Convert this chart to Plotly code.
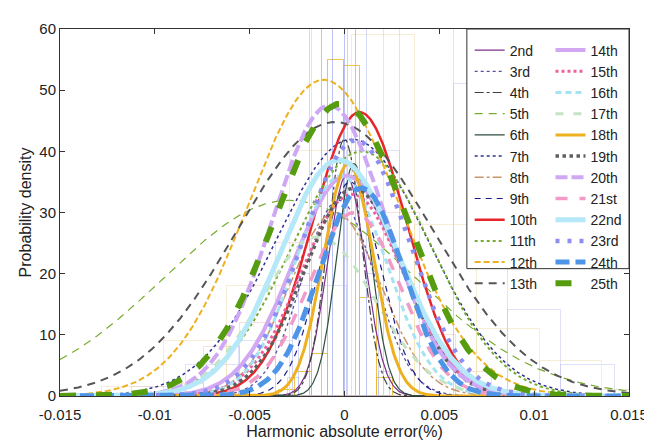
import numpy as np
import plotly.graph_objects as go

# ---- data ----
harmonics = ["2nd", "3rd", "4th", "5th", "6th", "7th", "8th", "9th", "10th", "11th", "12th", "13th",
             "14th", "15th", "16th", "17th", "18th", "19th", "20th", "21st", "22nd", "23rd", "24th", "25th"]
fit_mean = [0.0001, -0.0003, 0.0000, -0.0029, 0.0005, 0.0004, -0.0005, 0.0003, 0.0008, 0.0009, -0.0011, -0.0005,
            0.0001, 0.0004, -0.0002, -0.0014, 0.0002, 0.0005, -0.0008, 0.0005, -0.0003, 0.0006, 0.0009, -0.0002]
fit_sigma = [0.0010, 0.0019, 0.0009, 0.0066, 0.0009, 0.0040, 0.0024, 0.0016, 0.0025, 0.0037, 0.00397, 0.00514,
             0.0028, 0.0027, 0.0024, 0.0030, 0.0013, 0.0026, 0.0030, 0.0024, 0.0031, 0.0028, 0.0022, 0.0035]
fit_peak = [36, 32, 42, 32, 38, 42, 30, 35, 46.4, 40, 51.7, 44.8,
            36, 33, 36, 26, 38, 34, 47.5, 30, 38.6, 41.8, 34, 47.8]

# faint histogram outlines (left edge, bin width, bin heights)
hist_left = [-0.00346, -0.0112, -0.0093, -0.0128, -0.0030]
hist_width = [0.00086, 0.00283, 0.0019, 0.0033, 0.0006]
hist_heights = [
    [1, 4, 6.9, 55, 54, 16, 3],
    [1.5, 5, 9, 18, 40, 62, 51, 14, 5, 1],
    [2, 8, 12, 25, 70, 75, 30, 10, 4, 1],
    [1.5, 9, 18, 40, 59, 28, 11, 5.7, 1],
    [3, 20, 70, 80, 90, 75, 65, 20, 4],
]
hist_colors = ["rgba(237,177,32,0.8)", "rgba(180,180,240,0.4)", "rgba(240,160,150,0.35)",
               "rgba(237,215,160,0.45)", "rgba(160,170,240,0.45)"]

x_ticks = [-0.015, -0.01, -0.005, 0, 0.005, 0.01, 0.015]
x_ticklabels = ["-0.015", "-0.01", "-0.005", "0", "0.005", "0.01", "0.015"]
y_ticks = [0, 10, 20, 30, 40, 50, 60]

# ---- styles ----
styles = {
    "2nd": ("#7E2F8E", 1.2, "solid"),
    "3rd": ("#5A4FA0", 1.3, "dot"),
    "4th": ("#404040", 1.2, "dashdot"),
    "5th": ("#77AC30", 1.2, "8px,6px"),
    "6th": ("#2F4F3F", 1.2, "solid"),
    "7th": ("#2E3192", 1.5, "dot"),
    "8th": ("#C9956B", 1.5, "dashdot"),
    "9th": ("#1A1A8C", 1.2, "6px,5px"),
    "10th": ("#E8262A", 2.5, "solid"),
    "11th": ("#77AC30", 2.0, "dot"),
    "12th": ("#EDB120", 2.0, "6px,3px"),
    "13th": ("#555555", 2.0, "8px,6px"),
    "14th": ("#D2A8F2", 4.0, "solid"),
    "15th": ("#F0609E", 3.0, "dot"),
    "16th": ("#A6E3F2", 3.0, "6px,4px"),
    "17th": ("#C5E3C5", 3.0, "8px,10px"),
    "18th": ("#EDB120", 3.0, "solid"),
    "19th": ("#5F5F5F", 3.5, "dot"),
    "20th": ("#CFA8F5", 4.0, "12px,4px"),
    "21st": ("#F39BC8", 3.5, "12px,12px"),
    "22nd": ("#B5E8F8", 5.0, "solid"),
    "23rd": ("#8E8EF2", 4.5, "4px,8px"),
    "24th": ("#4E95E8", 5.0, "14px,6px"),
    "25th": ("#559C0E", 6.0, "16px,20px"),
}

fig = go.Figure()

for left, w, hs, col in zip(hist_left, hist_width, hist_heights, hist_colors):
    centers = [left + w * (i + 0.5) for i in range(len(hs))]
    fig.add_trace(go.Bar(x=centers, y=hs, width=[w] * len(hs), showlegend=False,
                         marker=dict(color="rgba(0,0,0,0)", line=dict(color=col, width=1)),
                         hoverinfo="skip"))

xs = np.linspace(-0.015, 0.015, 601)
for i, name in enumerate(harmonics):
    m, s, p = fit_mean[i], fit_sigma[i], fit_peak[i]
    ys = p * np.exp(-0.5 * ((xs - m) / s) ** 2)
    col, wid, dash = styles[name]
    fig.add_trace(go.Scatter(x=xs, y=ys, mode="lines", name=name,
                             line=dict(color=col, width=wid, dash=dash),
                             legend="legend" if i < 12 else "legend2"))

font = "Liberation Sans, Arial, sans-serif"
axis_common = dict(showline=True, linecolor="#333333", linewidth=1, mirror="ticks",
                   ticks="inside", ticklen=5, tickcolor="#333333", showgrid=False, zeroline=False,
                   tickfont=dict(family=font, size=15, color="#222222"))

fig.update_layout(
    width=652, height=441,
    margin=dict(l=52, r=19, t=13, b=53),
    paper_bgcolor="white", plot_bgcolor="white",
    barmode="overlay", bargap=0,
    xaxis=dict(range=[-0.015, 0.015], tickvals=x_ticks, ticktext=x_ticklabels,
               ticklabelstandoff=5,
               title=dict(text="Harmonic absolute error(%)", font=dict(family=font, size=16, color="#222222"),
                          standoff=3),
               **axis_common),
    yaxis=dict(range=[0, 60], tickvals=y_ticks,
               title=dict(text="Probability density", font=dict(family=font, size=16, color="#222222"),
                          standoff=3),
               **axis_common),
    legend=dict(x=0.72, y=0.985, xanchor="left", yanchor="top", bgcolor="rgba(0,0,0,0)",
                font=dict(family=font, size=14, color="#222222"), tracegroupgap=0, itemwidth=30),
    legend2=dict(x=0.862, y=0.985, xanchor="left", yanchor="top", bgcolor="rgba(0,0,0,0)",
                 font=dict(family=font, size=14, color="#222222"), tracegroupgap=0, itemwidth=30),
    shapes=[dict(type="rect", xref="paper", yref="paper", x0=0.715, x1=1.0, y0=0.347, y1=1.0,
                 fillcolor="white", line=dict(color="#333333", width=1), layer="above")],
)

fig.write_html("out.html")
